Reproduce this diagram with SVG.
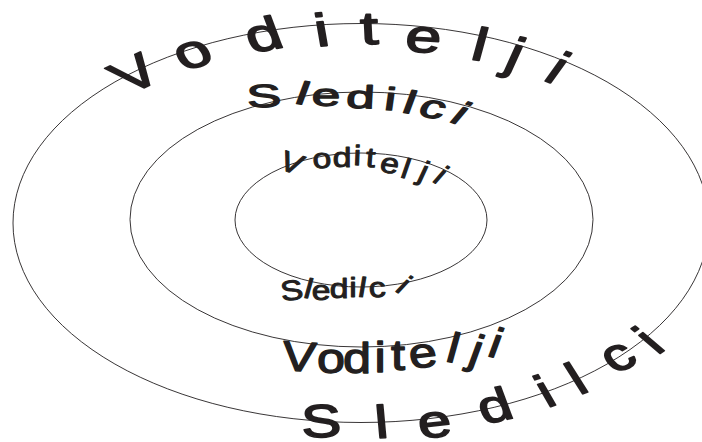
<svg xmlns="http://www.w3.org/2000/svg" width="702" height="442" viewBox="0 0 702 442">
<style>
.ring{fill:none;stroke:#231f20;stroke-width:0.9}
.lbl{font-family:"Liberation Sans",Arial,sans-serif;fill:#231f20;stroke:#231f20;stroke-linejoin:round}
.big{font-size:46px;stroke-width:1.6}
.mid{stroke-width:1.3}
.small{font-size:28px;stroke-width:1}
</style>
<rect width="702" height="442" fill="#fff"/>
<g id="rings">
<ellipse id="outer" class="ring" cx="361" cy="223" rx="348" ry="199.5"/>
<ellipse id="middle" class="ring" cx="361.5" cy="219.5" rx="231.5" ry="127.5"/>
<ellipse id="inner" class="ring" cx="361" cy="220" rx="126" ry="67"/>
</g>
<g id="labels">
<text id="outer-top" class="lbl big" transform="scale(1.4,1)"
 x="91.9 130.9 179.6 226.4 257.9 288.6 335.0 358.6 386.8"
 y="94.9 70.9 53.2 46.6 44.2 50.9 59 67.4 79.7"
 rotate="-33 -22 -15 -7 -2 5 11 18 27">Voditelji</text>
<text id="outer-bottom" class="lbl big" transform="scale(1.3,1)"
 x="232.4 289.5 323.5 372.4 420.7 445.5 473.3 505.5"
 y="437.6 438.3 438.7 424.4 408.1 395.2 374.4 355.4"
 rotate="-2 -4 -8 -16 -24 -26 -33 -42">Sledilci</text>
<text id="middle-top" class="lbl mid" font-size="32" transform="scale(1.6,1)"
 x="154.9 183.4 194.9 216.1 239.6 250.3 260.1 279.9"
 y="107.6 103.2 106 107.7 109.7 112.2 115.3 121.3"
 rotate="-3 13 0 2 5 13 16 28">Sledilci</text>
<text id="middle-bottom" class="lbl mid" font-size="42" transform="scale(1.2,1)"
 x="234.3 264.2 285.8 312.0 325.8 342.6 370.3 388.8 404.7"
 y="370 373 373 372 370 368.7 361 362.6 355.6"
 rotate="4 0 0 0 0 -8 13 17 17">Voditelji</text>
<text id="inner-top" class="lbl small" transform="scale(1.2,1)"
 x="231.1 261.0 277.3 294.4 304.4 315.7 332.8 347.1 359.3"
 y="168.6 168.6 167 164.9 166.7 171.6 177.1 178.9 181.1"
 rotate="21 -4 0 2 4 10 16 21 36">Voditelji</text>
<text id="inner-bottom" class="lbl small" transform="scale(1.2,1)"
 x="234.9 252.0 259.8 274.8 291.1 297.8 308.0 328.3"
 y="301.1 297.3 300 298 297 296.5 297.5 290.5"
 rotate="-7 13 0 0 0 8 -4 38">Sledilci</text>
</g>
</svg>
